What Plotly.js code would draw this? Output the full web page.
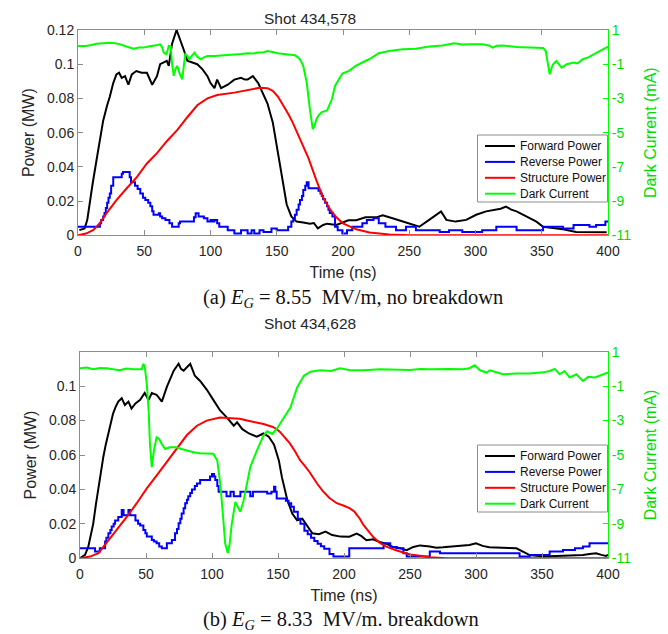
<!DOCTYPE html>
<html>
<head>
<meta charset="utf-8">
<script src="https://cdn.plot.ly/plotly-3.0.1.min.js"></script>
<style>html,body{margin:0;padding:0;background:#fff;}#chart{width:668px;height:634px;}</style>
</head>
<body>
<div id="chart"></div>
<script>
// ---------- DATA (time ns, value) ----------
const seriesNames = ["Forward Power", "Reverse Power", "Structure Power", "Dark Current"];
const xTicks = [0, 50, 100, 150, 200, 250, 300, 350, 400];
const powerTicksA = [0, 0.02, 0.04, 0.06, 0.08, 0.1, 0.12];
const powerTickTextA = ["0", "0.02", "0.04", "0.06", "0.08", "0.1", "0.12"];
const powerTicksB = [0, 0.02, 0.04, 0.06, 0.08, 0.1];
const powerTickTextB = ["0", "0.02", "0.04", "0.06", "0.08", "0.1"];
const currentTicks = [1, -1, -3, -5, -7, -9, -11];

// Shot 434,578
const aForward = [[1,0.003],[5,0.004],[7,0.009],[9,0.021],[11,0.030],[14,0.044],[17,0.058],[19,0.067],[22,0.076],[24,0.081],[26.6,0.089],[29,0.094],[31,0.095],[33,0.092],[35.5,0.093],[38,0.088],[40.6,0.094],[44,0.096],[48,0.095],[52,0.095],[56,0.088],[59.6,0.093],[62,0.100],[64.7,0.101],[67,0.102],[68.5,0.099],[71,0.112],[74.4,0.120],[77.4,0.114],[80,0.108],[82.5,0.102],[86,0.101],[90,0.100],[94,0.097],[97.7,0.093],[100,0.089],[103,0.086],[105,0.091],[108,0.086],[113,0.088],[118,0.091],[123,0.092],[126,0.091],[128,0.091],[132,0.093],[136,0.089],[139.6,0.083],[143,0.077],[147,0.066],[151,0.048],[154,0.032],[157.5,0.018],[161,0.011],[165,0.008],[170,0.0075],[175,0.0068],[178,0.0072],[181,0.004],[185,0.006],[188,0.0068],[195,0.006],[200,0.0075],[204,0.0088],[210,0.0088],[217,0.0105],[225,0.0105],[230,0.0117],[238,0.0098],[248,0.0075],[257.6,0.005],[265,0.009],[274,0.014],[278,0.009],[285,0.008],[293,0.009],[300.5,0.012],[308,0.014],[315.7,0.015],[319,0.0155],[323,0.0168],[327,0.015],[331,0.014],[338,0.011],[346,0.008],[351,0.005],[361,0.004],[366,0.0035],[376,0.002],[391,0.0018],[399,0.0018]];
const aReverse = [[0,0.005],[15,0.005],[16.5,0.007],[17.5,0.009],[19,0.011],[20,0.013],[21,0.016],[22,0.019],[23,0.022],[24,0.0245],[25,0.029],[26.6,0.034],[31.7,0.034],[33,0.036],[34,0.037],[38,0.037],[39,0.034],[40,0.031],[43,0.029],[45,0.027],[47,0.0245],[49,0.022],[50.8,0.0206],[53,0.019],[54.6,0.017],[56,0.014],[57,0.012],[59,0.012],[61,0.0129],[62,0.011],[63.5,0.010],[66,0.009],[69,0.007],[71,0.005],[74,0.005],[76,0.007],[77,0.008],[86,0.008],[87.5,0.0105],[88.8,0.0129],[91,0.011],[95,0.010],[97.7,0.008],[100,0.009],[101.5,0.008],[103,0.009],[105,0.007],[106.6,0.005],[110,0.005],[113,0.003],[118,0.001],[121,0.001],[123,0.003],[128,0.001],[131,0.003],[133,0.001],[137,0.003],[140,0.002],[143,0.002],[146,0.004],[150,0.003],[155,0.003],[158.6,0.005],[161,0.008],[162.5,0.010],[163.7,0.012],[165,0.015],[166.5,0.018],[167.5,0.0206],[169,0.023],[170,0.0265],[171.5,0.029],[172.6,0.031],[174,0.0275],[180,0.0275],[181.5,0.026],[183,0.0245],[184,0.023],[185,0.021],[186.5,0.019],[188,0.017],[189,0.015],[190,0.013],[192,0.011],[194,0.005],[196,0.003],[199.5,0.001],[203,0.003],[207,0.005],[214.6,0.007],[218,0.009],[223,0.010],[227,0.007],[232,0.005],[240,0.003],[247.5,0.005],[255,0.003],[270,0.003],[273,0.002],[275,0.002],[280,0.003],[285,0.003],[290,0.002],[300,0.002],[305,0.003],[310.6,0.003],[315.7,0.005],[325,0.005],[331,0.003],[341,0.003],[351,0.005],[366,0.004],[374,0.006],[386,0.005],[391,0.006],[398,0.008],[400,0.008]];
const aStructure = [[0,0],[6,0.001],[11.4,0.003],[16.5,0.007],[21.6,0.013],[29,0.0206],[36.8,0.0275],[44.4,0.034],[52,0.042],[59.6,0.048],[67,0.055],[75,0.0616],[82.5,0.069],[90,0.076],[97.7,0.080],[105,0.082],[118,0.0834],[130.7,0.0853],[137,0.0862],[143,0.086],[147,0.0845],[151,0.081],[155,0.076],[158.6,0.071],[162,0.066],[166,0.059],[170,0.051],[174,0.045],[180,0.032],[185,0.022],[190,0.0155],[195,0.0105],[200,0.007],[210,0.0035],[220,0.0017],[235,0.0005],[250,0.0001],[260,0],[400,0]];
const aDark = [[0,0.07],[6,0.07],[10,0.12],[14,0.2],[19,0.23],[24,0.26],[28,0.22],[32,0.16],[36,0.05],[40,-0.05],[42,-0.09],[46,-0.02],[49.5,-0.03],[53,0.04],[57,0.07],[60,0.12],[62,0.16],[63.5,0.0],[64.7,-0.32],[66.8,-0.42],[68.5,0.07],[70,0.05],[71,-1.0],[72.3,-1.68],[73.5,-1.3],[74.8,-1.1],[76.5,-1.5],[78.7,-1.88],[80,-1.0],[81,-0.42],[82.5,-0.5],[84,-0.71],[86,-0.5],[88,-0.32],[90,-0.55],[92.6,-0.71],[95,-0.6],[97.7,-0.52],[103,-0.52],[108,-0.5],[113,-0.45],[118,-0.42],[123,-0.4],[128,-0.36],[132,-0.38],[135.6,-0.32],[140,-0.3],[143,-0.23],[146,-0.3],[148.5,-0.32],[152,-0.38],[156,-0.42],[160,-0.45],[163.7,-0.48],[166,-0.6],[167.5,-0.71],[170,-1.1],[172.6,-2.07],[175,-3.63],[177.2,-4.8],[178.5,-4.6],[180,-4.2],[182,-3.95],[184,-3.8],[188,-3.7],[190,-3.35],[191.6,-3.05],[194,-2.27],[196.7,-1.9],[199.5,-1.55],[204.5,-1.39],[209.6,-1.1],[214.6,-0.9],[219.7,-0.71],[227,-0.36],[234.8,-0.23],[245,-0.13],[255,-0.09],[265,0.03],[275,0.1],[284,0.22],[290,0.15],[295.5,0.16],[305.6,0.16],[310,0.1],[313,-0.03],[316,0.08],[320.7,0.1],[331,0],[341,-0.03],[351,-0.05],[353,-0.23],[354.5,-0.9],[356,-1.59],[357.5,-1.2],[358.6,-1.0],[361,-0.81],[365,-1.2],[369,-1.0],[374,-0.9],[377,-0.95],[381,-0.71],[385,-0.6],[389,-0.42],[394,-0.23],[400,0.03]];

// Shot 434,628
const bForward = [[0,0],[3.8,0.002],[6.3,0.0068],[8,0.013],[10,0.02],[12,0.031],[14,0.0416],[16,0.051],[17.7,0.059],[19.5,0.066],[21.5,0.0725],[23,0.078],[25,0.084],[27,0.088],[29,0.091],[31.6,0.093],[34,0.089],[36.7,0.091],[39,0.087],[42,0.09],[45.6,0.092],[49,0.096],[52,0.092],[54.4,0.096],[58,0.095],[60,0.093],[62,0.091],[65.8,0.0996],[68,0.104],[71,0.109],[74.7,0.113],[76.5,0.110],[78.5,0.109],[81,0.111],[83.5,0.113],[85,0.110],[87,0.106],[91,0.103],[96,0.098],[101,0.092],[106,0.086],[111,0.082],[116.5,0.077],[119,0.079],[123,0.075],[128,0.0725],[134,0.0706],[139,0.0725],[143,0.0706],[147,0.066],[150.6,0.057],[153,0.047],[155,0.040],[157,0.034],[160.8,0.026],[164.5,0.022],[168.4,0.023],[172,0.019],[176,0.0145],[181,0.014],[186,0.0155],[191,0.0135],[197.5,0.0126],[204,0.0125],[209.6,0.0143],[213,0.013],[217,0.0105],[222,0.011],[227,0.0095],[232,0.0085],[237,0.0066],[242,0.006],[247.5,0.0047],[252.5,0.0066],[257.6,0.0075],[265,0.0068],[270,0.0062],[275,0.0064],[280,0.0068],[285,0.0068],[290,0.0072],[295,0.0077],[300,0.0087],[305,0.0072],[310,0.0064],[320.5,0.0064],[325,0.006],[330.6,0.0058],[335,0.004],[340.7,0.0019],[350.8,0.001],[358,0.0012],[366,0.0014],[375,0.0016],[381,0.0019],[386,0.0025],[391,0.0029],[395,0.002],[398.6,0.0014],[400,0.002]];
const bReverse = [[0,0.0058],[11.4,0.0039],[15,0.0058],[19,0.0097],[20,0.012],[21.5,0.0145],[23,0.0165],[24,0.0184],[25.5,0.020],[26.6,0.022],[29,0.024],[31.6,0.028],[33,0.025],[35,0.025],[36.7,0.028],[38,0.025],[42,0.022],[44,0.020],[45.6,0.019],[48,0.0164],[49.5,0.0145],[50.6,0.0126],[54.4,0.0106],[56,0.0097],[58,0.0087],[60,0.0068],[62,0.0058],[65.8,0.0087],[69.6,0.0106],[72,0.0145],[73.5,0.017],[74.7,0.0203],[76,0.023],[77,0.026],[78.5,0.029],[79.7,0.032],[81,0.034],[82,0.036],[83.5,0.038],[84.8,0.04],[87,0.042],[88.6,0.0435],[91,0.0455],[96,0.0455],[98.5,0.0475],[100,0.049],[101.5,0.0475],[102.5,0.0455],[104,0.042],[105,0.0387],[109,0.0387],[111,0.036],[114,0.0387],[116.5,0.036],[119,0.036],[121.5,0.0387],[126,0.0387],[129,0.036],[131,0.0387],[136.7,0.0387],[141.8,0.0377],[145,0.0387],[147,0.0416],[148,0.0387],[149,0.0348],[154.4,0.0348],[156,0.0334],[158,0.032],[160,0.030],[162,0.027],[165,0.023],[167,0.020],[170,0.016],[172.5,0.014],[175,0.012],[177.5,0.010],[180,0.0085],[182.5,0.007],[185,0.0055],[189,0.0025],[192,0.001],[203.4,0.001],[204,0.0058],[222,0.0058],[230,0.0087],[235,0.0066],[240,0.0058],[245,0.003],[247.5,0.001],[262.6,0.001],[265,0.0039],[272.7,0.0029],[333,0.001],[340.7,0.0019],[355.8,0.0039],[365.9,0.0048],[375,0.0058],[381,0.0068],[386,0.0087],[400,0.0087]];
const bStructure = [[0,0],[7.6,0.001],[14,0.003],[20,0.0087],[28,0.0164],[35.4,0.024],[43,0.032],[50.6,0.0406],[58,0.048],[65.8,0.056],[73,0.064],[81,0.0716],[88.6,0.077],[96,0.080],[106,0.0818],[114,0.0815],[121,0.081],[126.6,0.080],[134,0.079],[139,0.078],[146,0.0763],[149,0.075],[151.5,0.0734],[155,0.070],[159,0.0667],[163,0.062],[166.7,0.057],[170,0.054],[174,0.050],[180,0.043],[184,0.039],[189,0.035],[194.5,0.032],[200,0.0305],[204.5,0.029],[208,0.027],[210,0.025],[212,0.023],[214.6,0.0195],[219.7,0.0145],[222,0.0125],[227,0.009],[232,0.0068],[240,0.0045],[250,0.0022],[257.6,0.0015],[265,0.0006],[277.7,0.0001],[300,0],[400,0]];
const bDark = [[0,0.04],[5,0.08],[10,-0.02],[15,0.05],[20,0.04],[25,0.0],[30,-0.08],[35,0.02],[40.5,-0.02],[46.8,-0.02],[48,0.3],[49,0.17],[50.6,-0.89],[52,-2.43],[53,-4.36],[54.4,-5.7],[56,-4.74],[58,-3.97],[60,-4.07],[62,-4.36],[64.5,-4.65],[68,-4.55],[73,-4.55],[77,-4.65],[81,-4.74],[86,-4.84],[91,-4.9],[97.5,-4.9],[101,-4.93],[104,-5.32],[106.3,-6.67],[108.4,-8.6],[110,-10.14],[112,-10.7],[113.4,-10.14],[115,-8.98],[117.7,-7.73],[119.5,-8.0],[121.5,-8.3],[124,-7.63],[126.6,-6.67],[129,-5.7],[134,-4.74],[139,-3.87],[141.8,-3.62],[145.6,-3.78],[149,-3.49],[154.4,-2.8],[159.5,-2.23],[164.5,-1.08],[169.6,-0.4],[174.7,-0.16],[182,-0.08],[190,-0.12],[197,0.04],[204.6,-0.08],[215,-0.08],[227,-0.02],[240,-0.04],[250,-0.06],[257.6,0],[265,-0.02],[280,0],[290,-0.02],[295,0.04],[299,0.21],[303,-0.08],[308,-0.21],[310.5,-0.08],[315.5,-0.21],[320.5,-0.31],[330.6,-0.27],[340.7,-0.27],[350.8,-0.2],[355.8,-0.12],[359.6,0.0],[363.4,-0.31],[367,-0.12],[371,-0.5],[376,-0.31],[381,-0.7],[385,-0.46],[390,-0.5],[393.6,-0.4],[400,-0.21]];

// ---------- STYLE ----------
const colors = ["#000000", "#0000ff", "#ff0000", "#00ff00"];
const greenText = "#00dd00";
const frame = "#8c8c8c";
const txt = "#262626";
const W = 668, H = 634;
const FONT = "Liberation Sans, Arial, sans-serif";
const SERIF = "Liberation Serif, Times New Roman, serif";

function trace(pairs, i, xa, ya) {
  return {
    x: pairs.map(p => p[0]), y: pairs.map(p => p[1]),
    type: "scatter", mode: "lines", name: seriesNames[i],
    xaxis: xa, yaxis: ya, showlegend: false,
    line: {color: colors[i], width: 2, shape: i === 1 ? "hv" : "linear"},
    hoverinfo: "skip"
  };
}

const data = [
  trace(aForward, 0, "x", "y"),
  trace(aReverse, 1, "x", "y"),
  trace(aStructure, 2, "x", "y"),
  trace(aDark, 3, "x", "y2"),
  trace(bForward, 0, "x2", "y3"),
  trace(bReverse, 1, "x2", "y3"),
  trace(bStructure, 2, "x2", "y3"),
  trace(bDark, 3, "x2", "y4")
];

const px = v => v / W, py = v => 1 - v / H;

function xAx(domain, anchor) {
  return {domain: domain, anchor: anchor, range: [0, 400], tickvals: xTicks,
    ticks: "inside", ticklen: 5, tickcolor: frame, showline: true, linecolor: frame, linewidth: 1,
    mirror: "ticks", showgrid: false, zeroline: false, ticklabelstandoff: 3,
    tickfont: {family: FONT, size: 14, color: txt},
    title: {text: "Time (ns)", font: {family: FONT, size: 16, color: txt}, standoff: 8}};
}
function yAx(domain, anchor, tv, tt) {
  return {domain: domain, anchor: anchor, range: [0, 0.12], tickvals: tv, ticktext: tt,
    ticks: "inside", ticklen: 5, tickcolor: frame, showline: true, linecolor: frame, linewidth: 1,
    showgrid: false, zeroline: false,
    tickfont: {family: FONT, size: 14, color: txt},
    title: {text: "Power (MW)", font: {family: FONT, size: 16, color: txt}, standoff: 8}};
}
function y2Ax(over, anchor) {
  return {overlaying: over, anchor: anchor, side: "right", range: [-11, 1], tickvals: currentTicks,
    ticktext: currentTicks.map(String),
    ticks: "inside", ticklen: 5, tickcolor: "#00ff00", showline: true, linecolor: "#00ff00", linewidth: 1,
    showgrid: false, zeroline: false,
    tickfont: {family: FONT, size: 14, color: greenText},
    title: {text: "Dark Current (mA)", font: {family: FONT, size: 16, color: greenText}, standoff: 14}};
}

// Legend boxes (drawn in paper space, one per panel)
const shapes = [];
const annotations = [];
function addLegend(top) {
  shapes.push({type: "rect", xref: "paper", yref: "paper", layer: "above",
    x0: px(477.5), x1: px(607.5), y0: py(top + 67), y1: py(top),
    fillcolor: "#ffffff", line: {color: frame, width: 1}});
  seriesNames.forEach((name, i) => {
    const yc = top + 11 + i * 15.9;
    shapes.push({type: "line", xref: "paper", yref: "paper", layer: "above",
      x0: px(485), x1: px(515), y0: py(yc), y1: py(yc), line: {color: colors[i], width: 2}});
    annotations.push({text: name, xref: "paper", yref: "paper", x: px(518), y: py(yc),
      xanchor: "left", yanchor: "middle", showarrow: false,
      font: {family: FONT, size: 12, color: "#111"}});
  });
}
addLegend(135);
addLegend(445);

annotations.push(
  {text: "Shot 434,578", x: px(310), y: py(18), xref: "paper", yref: "paper", showarrow: false,
   xanchor: "center", yanchor: "middle", font: {family: FONT, size: 15.5, color: txt}},
  {text: "Shot 434,628", x: px(310), y: py(323), xref: "paper", yref: "paper", showarrow: false,
   xanchor: "center", yanchor: "middle", font: {family: FONT, size: 15.5, color: txt}},
  {text: "(a) <i>E</i><sub><i>G</i></sub> = 8.55&nbsp; MV/m, no breakdown", x: px(353), y: py(299),
   xref: "paper", yref: "paper", showarrow: false, xanchor: "center", yanchor: "middle",
   font: {family: SERIF, size: 20.5, color: "#111"}},
  {text: "(b) <i>E</i><sub><i>G</i></sub> = 8.33&nbsp; MV/m. breakdown", x: px(341), y: py(620),
   xref: "paper", yref: "paper", showarrow: false, xanchor: "center", yanchor: "middle",
   font: {family: SERIF, size: 20.5, color: "#111"}}
);

const layout = {
  width: W, height: H,
  margin: {l: 0, r: 0, t: 0, b: 0, pad: 0},
  paper_bgcolor: "#ffffff", plot_bgcolor: "#ffffff",
  showlegend: false,
  xaxis: xAx([px(78), px(608)], "y"),
  yaxis: yAx([py(235.3), py(30)], "x", powerTicksA, powerTickTextA),
  yaxis2: y2Ax("y", "x"),
  xaxis2: xAx([px(80), px(608)], "y3"),
  yaxis3: yAx([py(558.3), py(351.7)], "x2", powerTicksB, powerTickTextB),
  yaxis4: y2Ax("y3", "x2"),
  shapes: shapes,
  annotations: annotations
};

Plotly.newPlot("chart", data, layout, {staticPlot: true, displayModeBar: false});
</script>
</body>
</html>
